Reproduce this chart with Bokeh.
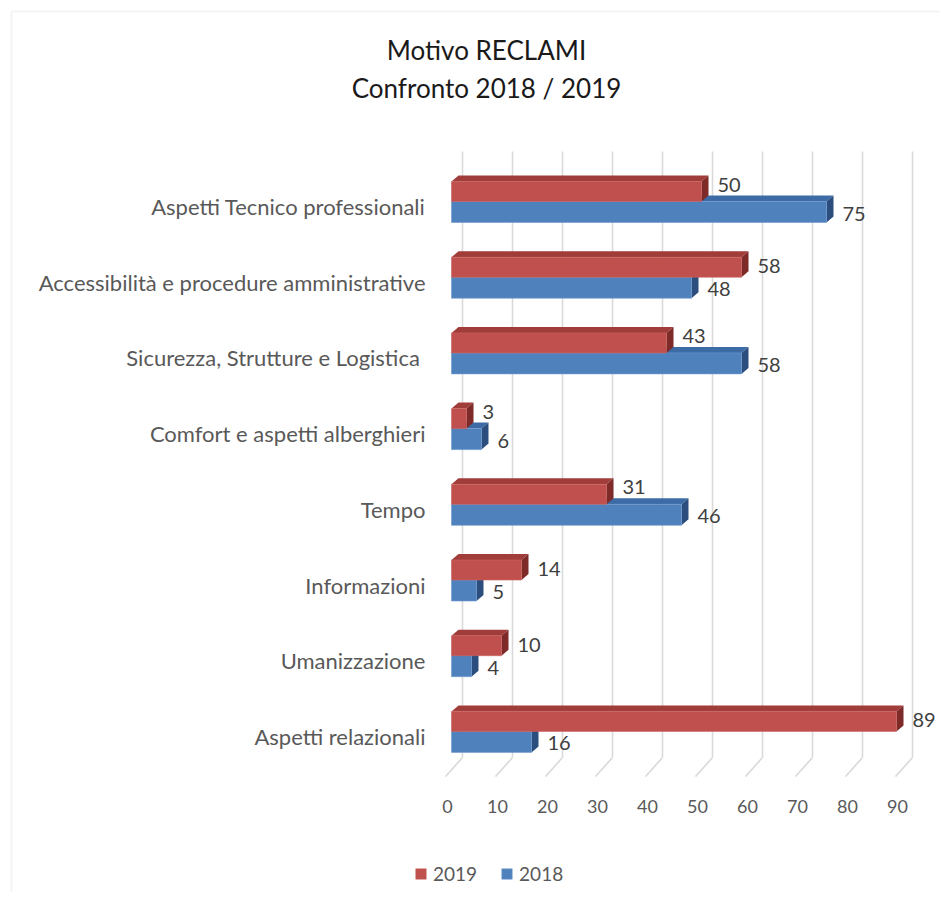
from bokeh.plotting import figure
from bokeh.models import Range1d, FixedTicker, Label, Legend, LegendItem, ColumnDataSource, BoxAnnotation
from bokeh.core.properties import value
from bokeh.embed import file_html
from bokeh.resources import INLINE

# ---------------- data ----------------
categories = [
    "Aspetti Tecnico professionali",
    "Accessibilità e procedure amministrative",
    "Sicurezza,  Strutture e Logistica",
    "Comfort e aspetti alberghieri",
    "Tempo",
    "Informazioni",
    "Umanizzazione",
    "Aspetti relazionali",
]
values_2019 = [50, 58, 43, 3, 31, 14, 10, 89]
values_2018 = [75, 48, 58, 6, 46, 5, 4, 16]
x_ticks = [0, 10, 20, 30, 40, 50, 60, 70, 80, 90]
series_names = ["2019", "2018"]
title_lines = ["Motivo RECLAMI", "Confronto 2018 / 2019"]

# ---------------- geometry (page pixels) ----------------
W, H, OFF = 940, 892, 1
AXL, AXB = 440, 780          # page x of category axis, page y of value axis
X0_PAGE = 452                # page x of value 0
PXX = 5.0                    # px per value unit
Y0_PAGE = 207                # page y of first category label
PXY = 75.7                   # px per category

FONT = "Lato"
TXT = "#595959"


def vx(px):
    return (px - X0_PAGE) / PXX


def vy(py):
    return (py - Y0_PAGE) / PXY


p = figure(
    width=W, height=H,
    x_range=Range1d(vx(OFF), vx(OFF + W)),
    y_range=Range1d(vy(OFF + H), vy(OFF)),
    output_backend="svg", toolbar_location=None,
    min_border_left=0, min_border_right=0, min_border_top=0, min_border_bottom=0,
    background_fill_color="white", border_fill_color="white",
)
p.outline_line_color = None
p.xgrid.grid_line_color = None
p.ygrid.grid_line_color = None

# tick labels sit slightly left of the bars' front plane (3D floor)
tick_shift = 4 / PXX
p.extra_x_ranges = {"ticks": Range1d(vx(OFF) + tick_shift, vx(OFF + W) + tick_shift)}

# ---------------- chart border (top and left edges) ----------------
p.add_layout(BoxAnnotation(left=12 - OFF, right=W + 20, top=H - (12 - OFF), bottom=-20,
                           left_units="screen", right_units="screen",
                           top_units="screen", bottom_units="screen",
                           fill_alpha=0, line_color="#DCDCDC", line_width=2))

# ---------------- 3D helpers ----------------
dx = 7 / PXX            # depth offset x (value units)
dy = -6 / PXY           # depth offset y (category units, negative = up)
b_off = -5 / PXY        # red/blue boundary relative to label position
h_red = 20 / PXY
h_blue = 21 / PXY

# gridlines (back wall + floor)
g_dx = 11 / PXX
g_fdx = -6 / PXX
n = len(x_ticks)
p.segment(x0=[t + g_dx for t in x_ticks], y0=[vy(152)] * n,
          x1=[t + g_dx for t in x_ticks], y1=[vy(758)] * n,
          line_color="#D9D9D9", line_width=1.6)
p.segment(x0=[t + g_dx for t in x_ticks], y0=[vy(758)] * n,
          x1=[t + g_fdx for t in x_ticks], y1=[vy(777)] * n,
          line_color="#D9D9D9", line_width=1.6)


def faces(vals, top_of, bot_of):
    tops_x, tops_y, sides_x, sides_y = [], [], [], []
    for i, v in enumerate(vals):
        yt, yb = top_of(i), bot_of(i)
        tops_x.append([0, v, v + dx, dx])
        tops_y.append([yt, yt, yt + dy, yt + dy])
        sides_x.append([v, v + dx, v + dx, v])
        sides_y.append([yt, yt + dy, yb + dy, yb])
    return tops_x, tops_y, sides_x, sides_y


idx = list(range(len(categories)))
bound = [i + b_off for i in idx]

# blue (2018) first: it lies behind the red front face
btx, bty, bsx, bsy = faces(values_2018, lambda i: bound[i], lambda i: bound[i] + h_blue)
p.patches(btx, bty, fill_color="#3D6BA6", line_color=None)
p.patches(bsx, bsy, fill_color="#2C4E7E", line_color=None)
blue_src = ColumnDataSource(dict(y=[b + h_blue / 2 for b in bound], right=values_2018))
r_blue = p.hbar(y="y", left=0, right="right", height=h_blue, source=blue_src,
                fill_color="#4F81BD", line_color="#6E98CC", line_width=0.6)

rtx, rty, rsx, rsy = faces(values_2019, lambda i: bound[i] - h_red, lambda i: bound[i])
p.patches(rtx, rty, fill_color="#A03C39", line_color=None)
p.patches(rsx, rsy, fill_color="#7E2A28", line_color=None)
red_src = ColumnDataSource(dict(y=[b - h_red / 2 for b in bound], right=values_2019))
r_red = p.hbar(y="y", left=0, right="right", height=h_red, source=red_src,
               fill_color="#C0504D", line_color="#C9625F", line_width=0.6)

# value labels
lab_dx = 16 / PXX
red_ly = [bound[i] + ((-17 if values_2019[i] < values_2018[i] else -11) / PXY) for i in idx]
blue_ly = [bound[i] + (12 / PXY) for i in idx]
for vals, ly in ((values_2019, red_ly), (values_2018, blue_ly)):
    p.text(x=[v + lab_dx for v in vals], y=ly, text=[str(v) for v in vals],
           text_align="left", text_baseline="middle", text_font=value(FONT),
           text_font_size="20px", text_color="#404040")

# ---------------- axes (drawn inside the frame at fixed locations) ----------------
p.xaxis.x_range_name = "ticks"
p.xaxis.fixed_location = vy(AXB)
p.xaxis.ticker = FixedTicker(ticks=x_ticks)
p.xaxis.axis_line_color = None
p.xaxis.major_tick_line_color = None
p.xaxis.minor_tick_line_color = None
p.xaxis.major_label_text_font = FONT
p.xaxis.major_label_text_font_size = "18px"
p.xaxis.major_label_text_color = TXT
p.xaxis.major_label_standoff = 14

p.yaxis.fixed_location = vx(AXL)
p.yaxis.ticker = FixedTicker(ticks=idx)
p.yaxis.major_label_overrides = {i: c for i, c in enumerate(categories)}
p.yaxis.axis_line_color = None
p.yaxis.major_tick_line_color = None
p.yaxis.minor_tick_line_color = None
p.yaxis.major_label_text_font = FONT
p.yaxis.major_label_text_font_size = "22px"
p.yaxis.major_label_text_color = TXT
p.yaxis.major_label_standoff = 8

# ---------------- title ----------------
for line, yc in zip(title_lines, [50, 88]):
    p.add_layout(Label(x=487 - OFF, y=H - (yc - OFF), x_units="screen", y_units="screen",
                       text=line, text_align="center", text_baseline="middle",
                       text_font=FONT, text_font_size="26px", text_color="#1A1A1A"))

# ---------------- legend ----------------
legend = Legend(items=[LegendItem(label=series_names[0], renderers=[r_red]),
                       LegendItem(label=series_names[1], renderers=[r_blue])],
                orientation="horizontal", location=(415 - OFF, H - (886 - OFF)),
                padding=0, margin=0, spacing=23, glyph_width=13, glyph_height=13,
                label_height=20, label_standoff=6, label_text_font=FONT,
                label_text_font_size="19px", label_text_color=TXT,
                border_line_color=None, background_fill_alpha=0)
p.add_layout(legend, "center")

open("out.html", "w").write(file_html(p, INLINE))
